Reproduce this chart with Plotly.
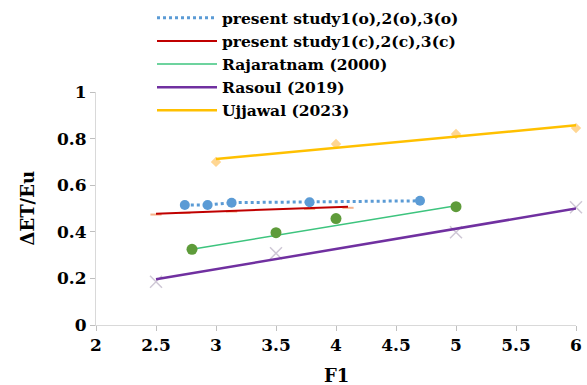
import plotly.graph_objects as go

# Present study (observed)
obs_x = [2.74, 2.93, 3.13, 3.78, 4.70]
obs_y = [0.515, 0.515, 0.525, 0.527, 0.533]

# Present study (computed)
comp_line_x = [2.5, 4.1]
comp_line_y = [0.478, 0.508]
comp_x = [2.5, 2.74, 3.13, 3.78, 4.1]
comp_y = [0.474, 0.481, 0.487, 0.498, 0.503]

# Rajaratnam (2000)
raj_x = [2.8, 3.5, 4.0, 5.0]
raj_y = [0.325, 0.396, 0.457, 0.508]
raj_line_x = [2.8, 5.0]
raj_line_y = [0.325, 0.512]

# Rasoul (2019)
ras_x = [2.5, 3.5, 5.0, 6.0]
ras_y = [0.186, 0.308, 0.398, 0.505]
ras_line_x = [2.5, 6.0]
ras_line_y = [0.196, 0.500]

# Ujjawal (2023)
ujj_x = [3.0, 4.0, 5.0, 6.0]
ujj_y = [0.700, 0.777, 0.820, 0.845]
ujj_line_x = [3.0, 6.0]
ujj_line_y = [0.712, 0.857]

names = ["present study1(o),2(o),3(o)", "present study1(c),2(c),3(c)",
         "Rajaratnam (2000)", "Rasoul (2019)", "Ujjawal (2023)"]
x_title = "F1"
y_title = "ΔET/Eu"

FONT = "DejaVu Serif"

fig = go.Figure()

# marker-only traces (not in legend)
fig.add_trace(go.Scatter(x=ras_x, y=ras_y, mode="markers", showlegend=False,
                         marker=dict(symbol="x-thin", size=12, line=dict(color="#CFC8D6", width=1.5)),
                         cliponaxis=False, hoverinfo="skip"))
fig.add_trace(go.Scatter(x=ujj_x, y=ujj_y, mode="markers", showlegend=False,
                         marker=dict(symbol="diamond", size=8, color="rgba(255,200,110,0.75)"),
                         cliponaxis=False, hoverinfo="skip"))
fig.add_trace(go.Scatter(x=comp_x, y=comp_y, mode="markers", showlegend=False,
                         marker=dict(symbol="line-ew", size=8, line=dict(color="rgba(244,160,110,0.8)", width=2)),
                         cliponaxis=False, hoverinfo="skip"))

# line traces (legend)
fig.add_trace(go.Scatter(x=obs_x, y=obs_y, mode="lines", name=names[0], legendrank=1,
                         line=dict(color="#5B9BD5", width=3, dash="dot")))
fig.add_trace(go.Scatter(x=comp_line_x, y=comp_line_y, mode="lines", name=names[1], legendrank=2,
                         line=dict(color="#C00000", width=2)))
fig.add_trace(go.Scatter(x=raj_line_x, y=raj_line_y, mode="lines", name=names[2], legendrank=3,
                         line=dict(color="#3DC47E", width=1.5)))
fig.add_trace(go.Scatter(x=ras_line_x, y=ras_line_y, mode="lines", name=names[3], legendrank=4,
                         line=dict(color="#7030A0", width=2.5)))
fig.add_trace(go.Scatter(x=ujj_line_x, y=ujj_line_y, mode="lines", name=names[4], legendrank=5,
                         line=dict(color="#FFC000", width=2.5)))

# markers on top
fig.add_trace(go.Scatter(x=obs_x, y=obs_y, mode="markers", showlegend=False,
                         marker=dict(symbol="circle", size=10, color="#5B9BD5"),
                         cliponaxis=False, hoverinfo="skip"))
fig.add_trace(go.Scatter(x=raj_x, y=raj_y, mode="markers", showlegend=False,
                         marker=dict(symbol="circle", size=11, color="#5E9B3A"),
                         cliponaxis=False, hoverinfo="skip"))

axis_common = dict(showline=True, linecolor="#D9D9D9", linewidth=1,
                   ticks="outside", tickcolor="#BFBFBF", ticklen=5,
                   showgrid=False, zeroline=False, automargin=False,
                   tickfont=dict(family=FONT, size=17, color="black", weight="bold"))

title_font = dict(family=FONT, size=18, color="black", weight="bold")

fig.update_layout(
    width=587, height=385,
    margin=dict(l=96, r=11, t=92, b=60, autoexpand=False),
    paper_bgcolor="white", plot_bgcolor="white",
    xaxis=dict(range=[2, 6], dtick=0.5, tick0=2, **axis_common),
    yaxis=dict(range=[0, 1], dtick=0.2, tick0=0, **axis_common),
    legend=dict(xref="container", yref="container", x=152 / 587, y=0.997,
                xanchor="left", yanchor="top",
                bgcolor="rgba(0,0,0,0)", itemwidth=60,
                font=dict(family=FONT, size=15.5, color="black", weight="bold")),
    showlegend=True,
    annotations=[
        dict(text=x_title, xref="paper", yref="paper", x=0.5, y=-0.2146,
             xanchor="center", yanchor="middle", showarrow=False, font=title_font),
        dict(text=y_title, xref="paper", yref="paper", x=-0.1417, y=0.5, textangle=-90,
             xanchor="center", yanchor="middle", showarrow=False, font=title_font),
    ],
)

fig.write_html("out.html")
